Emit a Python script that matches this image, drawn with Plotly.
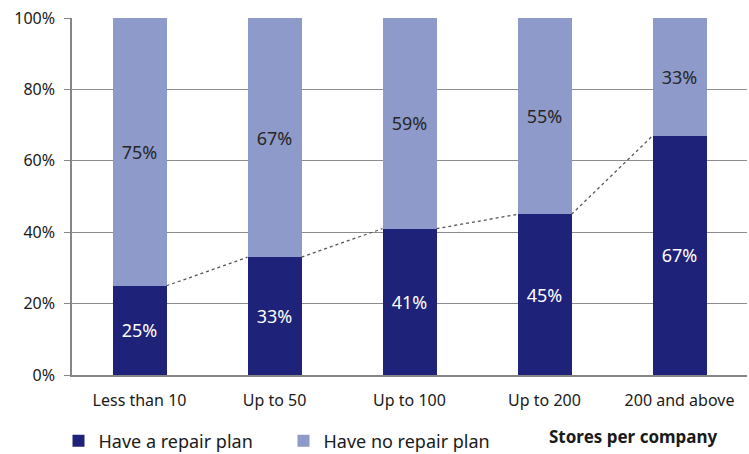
import plotly.graph_objects as go

categories = ["Less than 10", "Up to 50", "Up to 100", "Up to 200", "200 and above"]
have_plan = [25, 33, 41, 45, 67]
no_plan = [75, 67, 59, 55, 33]
y_ticks = [0, 20, 40, 60, 80, 100]
y_tick_labels = ["0%", "20%", "40%", "60%", "80%", "100%"]

DARK = "#1f2279"
LIGHT = "#8e9aca"
FONT = "Noto Sans"
BAR_W = 0.4

x = list(range(len(categories)))

fig = go.Figure()
fig.add_trace(go.Bar(
    x=x, y=have_plan, name="Have a repair plan", marker=dict(color=DARK, line_width=0),
    width=BAR_W, text=[f"{v}%" for v in have_plan], textposition="inside",
    insidetextanchor="middle", textfont=dict(color="white", size=18, family=FONT),
))
fig.add_trace(go.Bar(
    x=x, y=no_plan, name="Have no repair plan", marker=dict(color=LIGHT, line_width=0),
    width=BAR_W, text=[f"{v}%" for v in no_plan], textposition="inside",
    insidetextanchor="middle", textfont=dict(color="#262626", size=18, family=FONT),
))

# series lines joining the tops of the dark segments
for i in range(len(x) - 1):
    fig.add_trace(go.Scatter(
        x=[x[i] + BAR_W / 2, x[i + 1] - BAR_W / 2],
        y=[have_plan[i], have_plan[i + 1]],
        mode="lines", line=dict(color="#555555", width=1.3, dash="dot"),
        showlegend=False, hoverinfo="skip",
    ))

fig.update_layout(
    width=749, height=454, barmode="stack",
    margin=dict(l=72, r=2, t=18, b=79, autoexpand=False),
    paper_bgcolor="white", plot_bgcolor="white",
    font=dict(family=FONT, size=16, color="#1a1a1a"),
    legend=dict(orientation="h", x=-0.02, xanchor="left", y=-0.185, yanchor="middle",
                font=dict(size=18, color="#1a1a1a"), entrywidth=180, entrywidthmode="pixels",
                itemwidth=30, traceorder="normal"),
    xaxis=dict(range=[-0.5, len(categories) - 0.5], tickvals=x, ticktext=categories,
               showgrid=False, showline=True, linecolor="#868686", linewidth=1.5,
               ticks="", tickfont=dict(size=16), ticklabelstandoff=10),
    yaxis=dict(range=[0, 100], tickvals=y_ticks, ticktext=y_tick_labels,
               showgrid=True, gridcolor="#8c8c8c", gridwidth=1.2,
               showline=True, linecolor="#868686", linewidth=1.5,
               ticks="outside", ticklen=6, tickcolor="#868686", tickfont=dict(size=16),
               ticklabelstandoff=6, zeroline=False),
    annotations=[dict(text="<b>Stores per company</b>", xref="paper", yref="paper",
                      x=0.96, y=-0.171, xanchor="right", yanchor="middle", showarrow=False,
                      font=dict(size=17, color="#1a1a1a"))],
)

fig.write_html("out.html")
